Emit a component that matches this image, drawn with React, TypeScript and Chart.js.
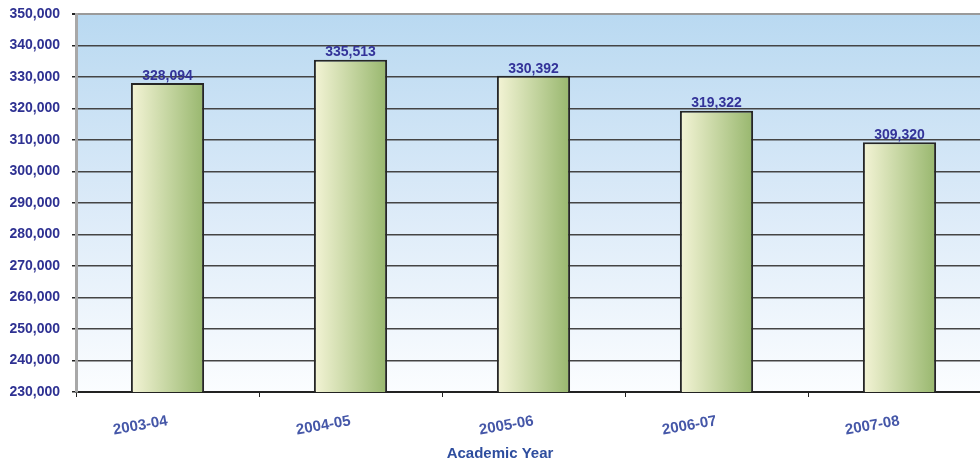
import React, { useEffect, useRef } from "react";
import { Chart, registerables } from "chart.js";

Chart.register(...registerables);

const categories = ["2003-04", "2004-05", "2005-06", "2006-07", "2007-08"];
const enrollment = [328094, 335513, 330392, 319322, 309320];
const yMin = 230000;
const yMax = 350000;
const yStep = 10000;
const xTitle = "Academic Year";

const fmt = (v: number) => v.toLocaleString("en-US");
const FONT = "Arial, 'Liberation Sans', sans-serif";
const BAR_PCT = 0.4;

const barFill = (c: any) => {
  const chart = c.chart;
  const xs = chart.scales && chart.scales.x;
  if (!xs || !chart.chartArea || c.dataIndex === undefined) return "#c6d6a2";
  const cx = xs.getPixelForValue(c.dataIndex);
  const half = ((xs.width / categories.length) * BAR_PCT) / 2;
  const g = chart.ctx.createLinearGradient(cx - half, 0, cx + half, 0);
  g.addColorStop(0, "#f4f4d6");
  g.addColorStop(0.5, "#c6d6a2");
  g.addColorStop(1, "#98b76e");
  return g;
};

const bgPlugin = {
  id: "plotBg",
  beforeDraw(chart: any) {
    const { ctx, chartArea: a } = chart;
    const g = ctx.createLinearGradient(0, a.top, 0, a.bottom);
    g.addColorStop(0, "#b9d9f1");
    g.addColorStop(0.5, "#dbeaf8");
    g.addColorStop(1, "#fbfdff");
    ctx.save();
    ctx.fillStyle = g;
    ctx.fillRect(a.left, a.top, a.right - a.left, a.bottom - a.top);
    ctx.restore();
  },
  afterDatasetsDraw(chart: any) {
    const { ctx } = chart;
    const meta = chart.getDatasetMeta(0);
    const data = chart.data.datasets[0].data as number[];
    ctx.save();
    ctx.font = `bold 14px ${FONT}`;
    ctx.fillStyle = "#333399";
    ctx.textAlign = "center";
    ctx.textBaseline = "bottom";
    meta.data.forEach((el: any, i: number) => {
      ctx.fillText(fmt(data[i]), el.x, el.y);
    });
    ctx.restore();
  },
  afterDraw(chart: any) {
    const { ctx } = chart;
    ctx.save();
    ctx.font = `bold 15px ${FONT}`;
    ctx.fillStyle = "#2e4d9e";
    ctx.textAlign = "center";
    ctx.textBaseline = "middle";
    ctx.fillText(xTitle, chart.width / 2, chart.height - 12);
    ctx.restore();
  },
};

export default function App() {
  const ref = useRef<HTMLCanvasElement>(null);
  useEffect(() => {
    if (!ref.current) return;
    const chart = new Chart(ref.current, {
      type: "bar",
      data: {
        labels: categories,
        datasets: [
          {
            data: enrollment,
            backgroundColor: barFill,
            borderColor: "#262626",
            borderWidth: 2,
            borderSkipped: false,
            categoryPercentage: 1,
            barPercentage: BAR_PCT,
          },
        ],
      },
      options: {
        responsive: false,
        animation: false,
        devicePixelRatio: 1,
        layout: { padding: { left: 0, right: 9, top: 14, bottom: 0 } },
        plugins: { legend: { display: false }, tooltip: { enabled: false } },
        scales: {
          x: {
            offset: true,
            grid: {
              display: true,
              drawOnChartArea: false,
              offset: true,
              color: "#222",
              tickLength: 5,
              tickWidth: 1,
            },
            border: { color: "#222", width: 2 },
            ticks: {
              minRotation: 10,
              maxRotation: 10,
              padding: 15,
              color: "#4557a8",
              font: { family: FONT, size: 15, weight: "bold" },
            },
            afterFit(scale: any) {
              scale.height = 74;
              scale.paddingLeft = 0;
              scale.paddingRight = 0;
            },
          },
          y: {
            min: yMin,
            max: yMax,
            grid: {
              color: (c: any) => (c.tick && c.tick.value === yMax ? "#9a9a9a" : "#444"),
              lineWidth: (c: any) => (c.tick && c.tick.value === yMax ? 2 : 1.5),
              tickLength: 4,
              tickColor: "#222",
            },
            border: { color: "#a8a8a8", width: 3 },
            ticks: {
              stepSize: yStep,
              padding: 12,
              color: "#2e3192",
              font: { family: FONT, size: 14, weight: "bold" },
              callback: (v: any) => fmt(Number(v)),
            },
            afterFit(scale: any) {
              scale.width = 76;
              scale.paddingTop = 0;
              scale.paddingBottom = 0;
            },
          },
        },
      },
      plugins: [bgPlugin],
    });
    return () => chart.destroy();
  }, []);
  return (
    <div style={{ position: "fixed", left: 0, top: 0, width: 980, height: 466, overflow: "hidden", background: "#fff" }}>
      <canvas ref={ref} width={1000} height={466} style={{ display: "block" }} />
    </div>
  );
}
